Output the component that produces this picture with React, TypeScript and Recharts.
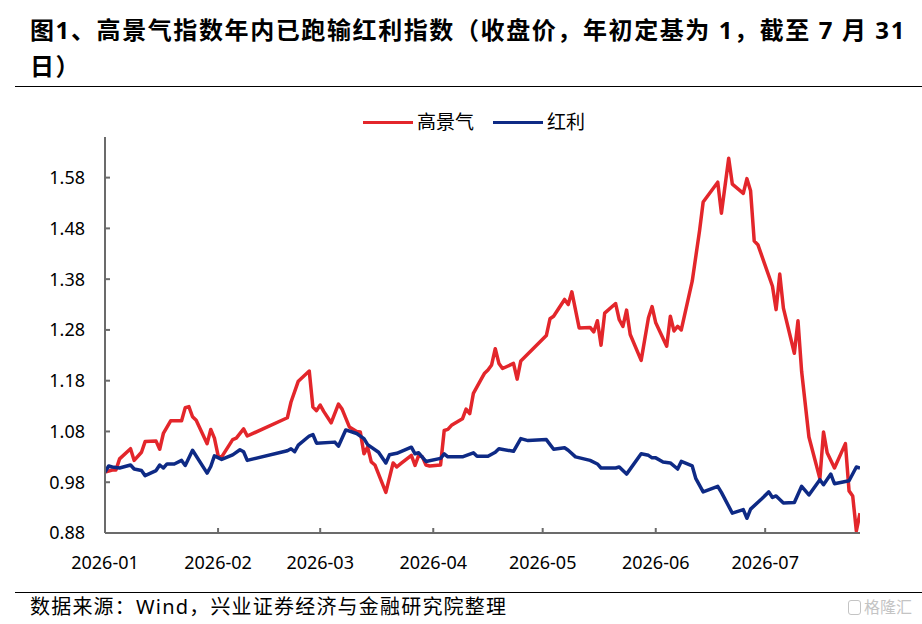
import React from 'react'
import { LineChart, Line, XAxis, YAxis } from 'recharts'

const RED = '#E3262B'
const BLUE = '#0E2A85'
const AXIS = '#6b6b6b'
const FONT = "'Noto Sans', 'Noto Sans CJK SC', sans-serif"

// x is day of year (0 = 2026-01-01)
const monthTicks = [0, 31, 59, 90, 120, 151, 181]
const monthLabels = ['2026-01', '2026-02', '2026-03', '2026-04', '2026-05', '2026-06', '2026-07']
const yTicks = [0.88, 0.98, 1.08, 1.18, 1.28, 1.38, 1.48, 1.58]

// 高景气
const highDays = [
  0, 2, 3, 4, 7, 8, 10, 11, 14, 15, 16, 18, 21, 22, 23, 24, 25, 28, 29, 30, 31, 32, 35, 36, 38, 39,
  50, 51, 53, 56, 57, 58, 59, 60, 62, 64, 65, 67, 69, 70, 71, 72, 73, 74, 77, 79, 80, 81, 84, 85, 86,
  87, 88, 89, 92, 93, 94, 95, 98, 99, 100, 101, 103, 104, 105, 106, 107, 108, 109, 112, 113, 114,
  121, 122, 123, 126, 127, 128, 130, 133, 134, 135, 136, 137, 140, 141, 142, 143, 144, 147, 149, 150,
  151, 154, 155, 156, 157, 158, 161, 163, 164, 168, 169, 171, 172, 175, 176, 177, 178, 179, 183, 184,
  185, 186, 189, 190, 191, 193, 196, 197, 198, 200, 203, 204, 205, 206, 207,
]
const highValues = [
  1.0, 1.004, 1.004, 1.026, 1.046, 1.023, 1.039, 1.06, 1.061, 1.045, 1.076, 1.101, 1.101, 1.127, 1.129,
  1.109, 1.102, 1.056, 1.084, 1.067, 1.033, 1.03, 1.064, 1.067, 1.085, 1.071,
  1.107, 1.138, 1.179, 1.199, 1.128, 1.121, 1.132, 1.119, 1.097, 1.134, 1.124, 1.089, 1.08, 1.079,
  1.036, 1.049, 1.02, 1.014, 0.96, 1.018, 1.01, 1.016, 1.033, 1.013, 1.033,
  1.03, 1.014, 1.012, 1.014, 1.082, 1.084, 1.092, 1.105, 1.124, 1.115, 1.155, 1.181, 1.194, 1.201,
  1.211, 1.243, 1.214, 1.204, 1.214, 1.183, 1.219,
  1.269, 1.302, 1.307, 1.34, 1.33, 1.355, 1.284, 1.285, 1.276, 1.298, 1.25, 1.313, 1.332, 1.3, 1.287,
  1.319, 1.271, 1.22, 1.304, 1.326,
  1.294, 1.248, 1.307, 1.278, 1.287, 1.28, 1.376, 1.475, 1.532, 1.571, 1.51, 1.618, 1.567, 1.549,
  1.578, 1.554, 1.455, 1.448, 1.366, 1.32,
  1.39, 1.323, 1.234, 1.298, 1.198, 1.069, 0.987, 1.079, 1.038, 1.008, 1.056, 0.963, 0.953, 0.884, 0.919,
]

// 红利
const divDays = [
  0, 1, 2, 4, 7, 8, 10, 11, 14, 15, 16, 17, 19, 21, 22, 24, 28, 29, 30, 32, 35, 37, 38, 39, 50, 51,
  52, 53, 56, 57, 58, 63, 64, 66, 69, 71, 72, 75, 77, 78, 80, 84, 85, 86, 88, 92, 93, 94, 98, 101, 102,
  105, 107, 108, 112, 114, 116, 121, 123, 126, 127, 129, 133, 135, 136, 140, 141, 143, 147, 149, 150,
  151, 153, 155, 157, 158, 161, 162, 164, 168, 169, 172, 175, 176, 177, 180, 182, 183, 184, 186, 189,
  191, 193, 196, 197, 199, 200, 204, 206, 207,
]
const divValues = [
  1.0, 1.012, 1.01, 1.008, 1.014, 1.006, 1.003, 0.993, 1.003, 1.014, 1.008, 1.016, 1.016, 1.023, 1.013,
  1.043, 0.998, 1.011, 1.032, 1.025, 1.034, 1.044, 1.04, 1.023, 1.042, 1.046,
  1.04, 1.053, 1.071, 1.074, 1.057, 1.059, 1.051, 1.083, 1.076, 1.066, 1.054, 1.039, 1.018, 1.034,
  1.037, 1.049, 1.036, 1.038, 1.021, 1.027, 1.036, 1.03, 1.03, 1.038, 1.031,
  1.031, 1.039, 1.046, 1.041, 1.066, 1.062, 1.064, 1.045, 1.048, 1.043, 1.03, 1.023, 1.016, 1.008,
  1.008, 1.01, 0.996, 1.036, 1.033, 1.028,
  1.028, 1.02, 1.018, 1.006, 1.021, 1.012, 0.987, 0.961, 0.972, 0.96, 0.919, 0.926, 0.909, 0.927,
  0.947, 0.961, 0.95, 0.953, 0.939, 0.94,
  0.972, 0.955, 0.985, 0.975, 0.996, 0.977, 0.983, 1.01, 1.008,
]

const highData = highDays.map((d, i) => ({ day: d, value: highValues[i] }))
const divData = divDays.map((d, i) => ({ day: d, value: divValues[i] }))

const abs = (style: React.CSSProperties): React.CSSProperties => ({ position: 'absolute', ...style })

function LegendItem({ color, label }: { color: string; label: string }) {
  return (
    <div style={{ display: 'flex', alignItems: 'center', marginRight: 19 }}>
      <div style={{ width: 50, height: 3, background: color, marginRight: 4 }} />
      <span>{label}</span>
    </div>
  )
}

export default function App() {
  return (
    <div style={abs({ left: 0, top: 0, width: 922, height: 624, background: '#fff', fontFamily: FONT, color: '#000' })}>
      <div style={abs({ left: 30, top: 12, fontSize: 24, fontWeight: 700, lineHeight: '36px', letterSpacing: 1.6, whiteSpace: 'nowrap' })}>
        图1、高景气指数年内已跑输红利指数（收盘价，年初定基为 1，截至 7 月 31
      </div>
      <div style={abs({ left: 30, top: 48, fontSize: 24, fontWeight: 700, lineHeight: '36px', letterSpacing: 1.6 })}>日）</div>
      <div style={abs({ left: 15, top: 86, width: 907, borderTop: '1.5px solid #000' })} />

      <div style={abs({ left: 363, top: 110, fontSize: 19, lineHeight: '24px', display: 'flex' })}>
        <LegendItem color={RED} label="高景气" />
        <LegendItem color={BLUE} label="红利" />
      </div>

      <div style={abs({ left: 0, top: 0 })}>
        <LineChart width={922} height={624} margin={{ top: 137, right: 62, bottom: 61, left: 45 }}>
          <XAxis
            dataKey="day"
            type="number"
            domain={[0, 207]}
            ticks={monthTicks}
            tickFormatter={(v: number) => monthLabels[monthTicks.indexOf(v)] ?? ''}
            allowDataOverflow
            height={30}
            stroke={AXIS}
            strokeWidth={2}
            tickSize={-5}
            tickMargin={28}
            tick={{ fill: '#000', fontSize: 18, fontFamily: FONT }}
            interval={0}
          />
          <YAxis
            type="number"
            domain={[0.88, 1.66]}
            ticks={yTicks}
            tickFormatter={(v: number) => v.toFixed(2)}
            allowDataOverflow
            width={60}
            stroke={AXIS}
            strokeWidth={2}
            tickSize={-5}
            tickMargin={25}
            tick={{ fill: '#000', fontSize: 18, fontFamily: FONT }}
            interval={0}
          />
          <Line
            data={highData}
            dataKey="value"
            type="linear"
            stroke={RED}
            strokeWidth={3.5}
            dot={false}
            isAnimationActive={false}
            strokeLinejoin="round"
          />
          <Line
            data={divData}
            dataKey="value"
            type="linear"
            stroke={BLUE}
            strokeWidth={3.5}
            dot={false}
            isAnimationActive={false}
            strokeLinejoin="round"
          />
        </LineChart>
      </div>

      <div style={abs({ left: 15, top: 592, width: 907, borderTop: '1.5px solid #000' })} />
      <div style={abs({ left: 30, top: 595, fontSize: 20, lineHeight: '24px', letterSpacing: 1.2, whiteSpace: 'nowrap' })}>
        数据来源：Wind，兴业证券经济与金融研究院整理
      </div>
      <div style={abs({ left: 848, top: 597, fontSize: 16, lineHeight: '20px', color: '#c4c4c4', display: 'flex', alignItems: 'center' })}>
        <span style={{ border: '1.5px solid #c4c4c4', borderRadius: 3, width: 11, height: 13, marginRight: 3 }} />
        格隆汇
      </div>
    </div>
  )
}
